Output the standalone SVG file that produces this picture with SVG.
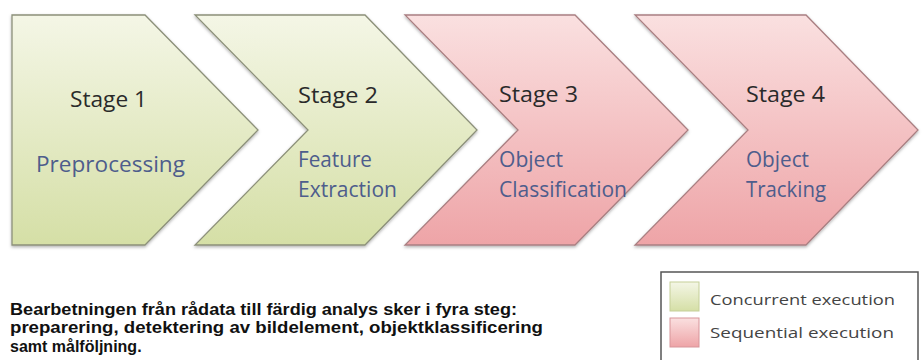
<svg xmlns="http://www.w3.org/2000/svg" width="924" height="360" viewBox="0 0 924 360">
<style>
.stage{font-family:"Open Sans","Liberation Sans",sans-serif;font-size:22px;fill:#2a2a2a}
.sub{font-family:"Open Sans","Liberation Sans",sans-serif;font-size:21px;fill:#4e5d8c}
.green{fill:url(#gGreen);stroke:#8c907a;stroke-width:1.3}
.pink{fill:url(#gPink);stroke:#a97f82;stroke-width:1.3}
.cap{font-family:"Liberation Sans","DejaVu Sans",sans-serif;font-size:16px;font-weight:bold;fill:#111}
.leg{font-family:"Open Sans","Liberation Sans",sans-serif;font-size:15px;fill:#444}
</style>
<defs>
<linearGradient id="gGreen" x1="0" y1="0" x2="0" y2="1">
<stop offset="0" stop-color="#f4f6e6"/>
<stop offset="1" stop-color="#d5dfa6"/>
</linearGradient>
<linearGradient id="gPink" x1="0" y1="0" x2="0" y2="1">
<stop offset="0" stop-color="#fae0e0"/>
<stop offset="1" stop-color="#eea4a7"/>
</linearGradient>
<filter id="sh" x="-5%" y="-5%" width="110%" height="115%">
<feDropShadow dx="0" dy="1.5" stdDeviation="1.5" flood-color="#000" flood-opacity="0.3"/>
</filter>
</defs>
<rect width="924" height="360" fill="#ffffff"/>
<g id="stage1">
<polygon class="green" filter="url(#sh)" points="12,15 145,15 258,130 145,245 12,245"/>
<text class="stage" x="70" y="107" textLength="77" lengthAdjust="spacingAndGlyphs">Stage 1</text>
<text class="sub" x="36" y="172" textLength="149" lengthAdjust="spacingAndGlyphs">Preprocessing</text>
</g>
<g id="stage2">
<polygon class="green" filter="url(#sh)" points="195,15 365,15 477,130 365,245 195,245 308,130"/>
<text class="stage" x="298" y="103" textLength="80" lengthAdjust="spacingAndGlyphs">Stage 2</text>
<text class="sub" x="298" y="167" textLength="74" lengthAdjust="spacingAndGlyphs">Feature</text>
<text class="sub" x="298" y="197" textLength="99" lengthAdjust="spacingAndGlyphs">Extraction</text>
</g>
<g id="stage3">
<polygon class="pink" filter="url(#sh)" points="405,15 575,15 688,130 575,245 405,245 518,130"/>
<text class="stage" x="499" y="102" textLength="79" lengthAdjust="spacingAndGlyphs">Stage 3</text>
<text class="sub" x="499" y="167" textLength="64" lengthAdjust="spacingAndGlyphs">Object</text>
<text class="sub" x="499" y="197" textLength="128" lengthAdjust="spacingAndGlyphs">Classification</text>
</g>
<g id="stage4">
<polygon class="pink" filter="url(#sh)" points="635,15 806,15 918,130 806,245 635,245 748,130"/>
<text class="stage" x="746" y="102" textLength="79" lengthAdjust="spacingAndGlyphs">Stage 4</text>
<text class="sub" x="746" y="167" textLength="63" lengthAdjust="spacingAndGlyphs">Object</text>
<text class="sub" x="746" y="197" textLength="80" lengthAdjust="spacingAndGlyphs">Tracking</text>
</g>
<g id="caption">
<text class="cap" x="10" y="315" textLength="507" lengthAdjust="spacingAndGlyphs">Bearbetningen från rådata till färdig analys sker i fyra steg:</text>
<text class="cap" x="10" y="333" textLength="533" lengthAdjust="spacingAndGlyphs">preparering, detektering av bildelement, objektklassificering</text>
<text class="cap" x="10" y="352">samt målföljning.</text>
</g>
<g id="legend">
<rect x="661" y="272" width="257" height="100" fill="#ffffff" stroke="#555" stroke-width="1.5"/>
<rect x="670" y="282" width="29" height="29" fill="url(#gGreen)" stroke="#c5cf98" stroke-width="1"/>
<rect x="670" y="318" width="29" height="29" fill="url(#gPink)" stroke="#d7959a" stroke-width="1"/>
<text class="leg" x="710" y="305" textLength="185" lengthAdjust="spacingAndGlyphs">Concurrent execution</text>
<text class="leg" x="710" y="338" textLength="184" lengthAdjust="spacingAndGlyphs">Sequential execution</text>
</g>
</svg>
